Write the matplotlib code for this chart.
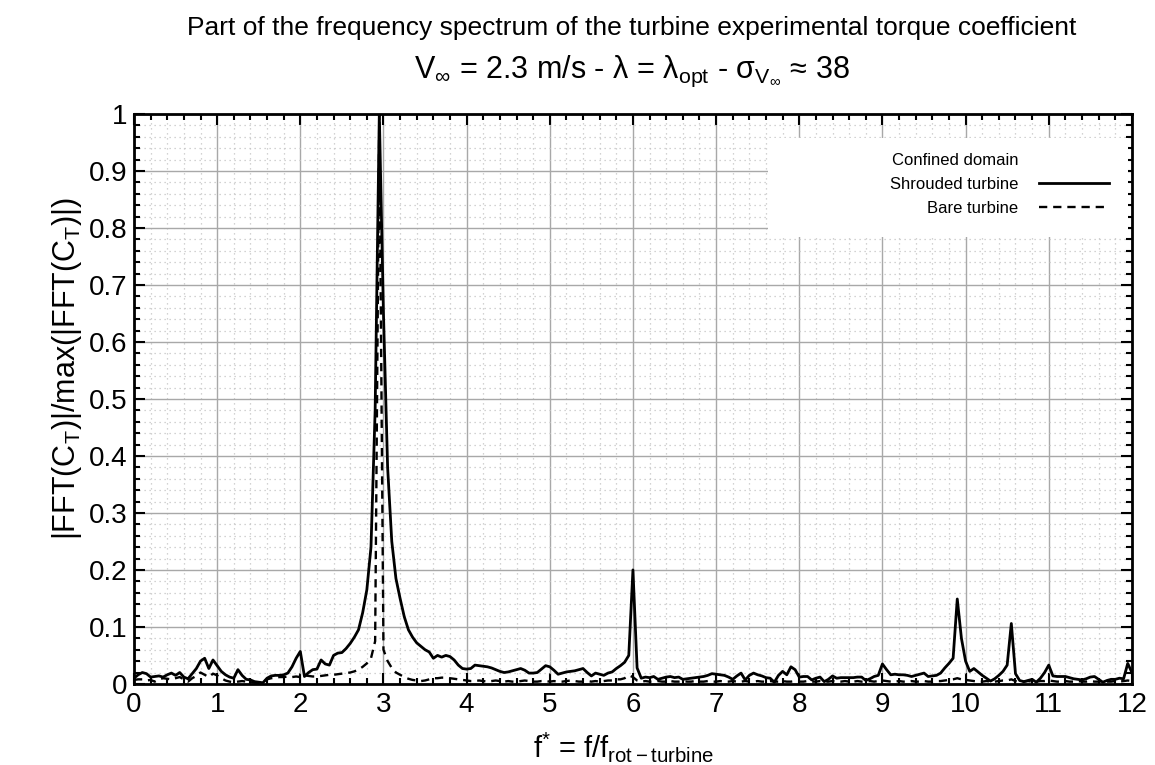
import matplotlib.pyplot as plt
import numpy as np
from matplotlib.ticker import MultipleLocator
from matplotlib.patches import Rectangle
from matplotlib.lines import Line2D

plt.rcParams['font.family'] = ['Liberation Sans', 'DejaVu Sans']
plt.rcParams['mathtext.fontset'] = 'custom'
plt.rcParams['mathtext.rm'] = 'Liberation Sans'
plt.rcParams['mathtext.it'] = 'Liberation Sans:italic'
plt.rcParams['mathtext.default'] = 'regular'

# normalised frequency f* (step 0.05)
freq = np.arange(0, 241) * 0.05

# shrouded turbine, |FFT(C_T)| / max
shrouded = [
    0.010, 0.016, 0.020, 0.018, 0.012, 0.013, 0.014, 0.012, 0.016, 0.019,
    0.015, 0.020, 0.012, 0.009, 0.018, 0.027, 0.040, 0.045, 0.027, 0.042,
    0.032, 0.022, 0.016, 0.012, 0.010, 0.025, 0.015, 0.008, 0.007, 0.004,
    0.003, 0.002, 0.010, 0.014, 0.015, 0.015, 0.016, 0.019, 0.030, 0.045,
    0.057, 0.013, 0.020, 0.025, 0.026, 0.042, 0.035, 0.033, 0.050, 0.054,
    0.055, 0.062, 0.071, 0.082, 0.095, 0.125, 0.165, 0.240, 0.480, 1.000,
    0.650, 0.380, 0.250, 0.185, 0.150, 0.118, 0.095, 0.082, 0.072, 0.066,
    0.060, 0.056, 0.045, 0.050, 0.047, 0.050, 0.048, 0.042, 0.033, 0.027,
    0.026, 0.027, 0.033, 0.032, 0.031, 0.030, 0.028, 0.025, 0.022, 0.020,
    0.021, 0.023, 0.025, 0.027, 0.024, 0.019, 0.019, 0.020, 0.026, 0.032,
    0.030, 0.024, 0.017, 0.019, 0.021, 0.022, 0.023, 0.025, 0.027, 0.020,
    0.014, 0.019, 0.017, 0.015, 0.019, 0.021, 0.027, 0.032, 0.038, 0.050,
    0.200, 0.028, 0.010, 0.012, 0.011, 0.013, 0.008, 0.010, 0.012, 0.013,
    0.011, 0.012, 0.008, 0.009, 0.010, 0.011, 0.012, 0.013, 0.015, 0.018,
    0.017, 0.016, 0.015, 0.012, 0.008, 0.014, 0.019, 0.007, 0.015, 0.019,
    0.016, 0.014, 0.011, 0.010, 0.003, 0.015, 0.022, 0.016, 0.030, 0.025,
    0.012, 0.013, 0.013, 0.007, 0.010, 0.012, 0.004, 0.008, 0.014, 0.010,
    0.011, 0.011, 0.011, 0.011, 0.012, 0.012, 0.006, 0.009, 0.013, 0.015,
    0.035, 0.025, 0.016, 0.017, 0.016, 0.016, 0.015, 0.013, 0.015, 0.017,
    0.019, 0.013, 0.014, 0.015, 0.019, 0.028, 0.036, 0.045, 0.149, 0.080,
    0.040, 0.022, 0.027, 0.021, 0.015, 0.010, 0.005, 0.009, 0.015, 0.022,
    0.033, 0.106, 0.018, 0.006, 0.004, 0.006, 0.008, 0.003, 0.010, 0.020,
    0.033, 0.014, 0.013, 0.013, 0.013, 0.011, 0.009, 0.008, 0.007, 0.009,
    0.012, 0.013, 0.008, 0.003, 0.006, 0.008, 0.008, 0.010, 0.009, 0.036,
    0.020,
]

# bare turbine
bare = [
    0.007, 0.008, 0.008, 0.006, 0.007, 0.004, 0.008, 0.010, 0.009, 0.008,
    0.010, 0.012, 0.008, 0.004, 0.010, 0.014, 0.020, 0.016, 0.012, 0.018,
    0.015, 0.010, 0.006, 0.004, 0.003, 0.004, 0.005, 0.004, 0.003, 0.002,
    0.002, 0.003, 0.008, 0.010, 0.011, 0.012, 0.012, 0.013, 0.012, 0.013,
    0.012, 0.015, 0.014, 0.013, 0.013, 0.014, 0.015, 0.016, 0.016, 0.017,
    0.018, 0.019, 0.020, 0.022, 0.025, 0.030, 0.036, 0.045, 0.075, 1.000,
    0.060, 0.040, 0.028, 0.020, 0.016, 0.012, 0.009, 0.007, 0.006, 0.005,
    0.006, 0.008, 0.010, 0.010, 0.011, 0.011, 0.010, 0.009, 0.008, 0.007,
    0.006, 0.005, 0.005, 0.006, 0.005, 0.004, 0.005, 0.006, 0.005, 0.004,
    0.005, 0.004, 0.004, 0.005, 0.006, 0.005, 0.004, 0.004, 0.005, 0.005,
    0.004, 0.005, 0.004, 0.004, 0.005, 0.006, 0.005, 0.004, 0.004, 0.005,
    0.004, 0.005, 0.004, 0.005, 0.006, 0.006, 0.008, 0.008, 0.010, 0.015,
    0.012, 0.006, 0.004, 0.005, 0.004, 0.004, 0.005, 0.004, 0.004, 0.005,
    0.004, 0.004, 0.005, 0.004, 0.004, 0.005, 0.004, 0.004, 0.005, 0.004,
    0.004, 0.005, 0.004, 0.004, 0.005, 0.004, 0.004, 0.005, 0.004, 0.004,
    0.005, 0.004, 0.004, 0.005, 0.004, 0.004, 0.005, 0.004, 0.004, 0.005,
    0.004, 0.004, 0.005, 0.004, 0.004, 0.005, 0.004, 0.004, 0.005, 0.004,
    0.004, 0.005, 0.004, 0.004, 0.005, 0.004, 0.004, 0.005, 0.004, 0.005,
    0.006, 0.005, 0.004, 0.004, 0.005, 0.004, 0.004, 0.005, 0.004, 0.004,
    0.005, 0.004, 0.004, 0.005, 0.005, 0.006, 0.007, 0.008, 0.010, 0.008,
    0.007, 0.006, 0.005, 0.004, 0.004, 0.005, 0.004, 0.004, 0.005, 0.006,
    0.006, 0.008, 0.005, 0.004, 0.004, 0.005, 0.004, 0.004, 0.005, 0.005,
    0.006, 0.005, 0.004, 0.004, 0.005, 0.004, 0.004, 0.005, 0.004, 0.004,
    0.005, 0.004, 0.004, 0.005, 0.004, 0.004, 0.005, 0.004, 0.005, 0.006,
    0.005,
]

fig = plt.figure(figsize=(11.55, 7.65), dpi=100)
ax = fig.add_axes([0.116, 0.106, 0.864, 0.745])

l1, = ax.plot(freq, shrouded, color='black', lw=2.0, label='Shrouded turbine', zorder=3)
l2, = ax.plot(freq, bare, color='black', lw=1.7, ls=(0, (3.5, 2.5)), label='Bare turbine', zorder=3)

ax.set_xlim(0, 12)
ax.set_ylim(0, 1)
ax.xaxis.set_major_locator(MultipleLocator(1))
ax.xaxis.set_minor_locator(MultipleLocator(0.2))
ax.yaxis.set_major_locator(MultipleLocator(0.1))
ax.yaxis.set_minor_locator(MultipleLocator(0.02))
ax.set_yticks(np.arange(0, 1.01, 0.1))
ax.set_yticklabels(['0', '0.1', '0.2', '0.3', '0.4', '0.5', '0.6', '0.7', '0.8', '0.9', '1'])

ax.grid(which='major', color='#a8a8a8', lw=1.0)
ax.grid(which='minor', color='#c4c4c4', lw=0.9, ls=(0, (1, 3)))
ax.set_axisbelow(True)
ax.tick_params(which='both', direction='in', top=True, right=True, width=1.5)
ax.tick_params(axis='x', labelsize=20, pad=6)
ax.tick_params(axis='y', labelsize=20, pad=5)
ax.tick_params(which='major', length=8)
ax.tick_params(which='minor', length=4)
for s in ax.spines.values():
    s.set_linewidth(2)

ax.set_xlabel(r'f$^{*}$ = f/f$_{\mathrm{rot-turbine}}$', fontsize=21)
ax.set_ylabel(r'|FFT(C$_{\mathrm{T}}$)|/max(|FFT(C$_{\mathrm{T}}$)|)', fontsize=22)
ax.xaxis.set_label_coords(0.49, -0.08)
ax.yaxis.set_label_coords(-0.05, 0.553)

fig.text(0.547, 0.963, 'Part of the frequency spectrum of the turbine experimental torque coefficient',
         ha='center', va='center', fontsize=19)
fig.text(0.547, 0.907, r'V$_{\infty}$ = 2.3 m/s - λ = λ$_{\mathrm{opt}}$ - σ$_{\mathrm{V}_{\infty}}$ ≈ 38',
         ha='center', va='center', fontsize=22)

# white key box
ax.add_patch(Rectangle((0.635, 0.785), 0.361, 0.172, transform=ax.transAxes,
                       facecolor='white', edgecolor='none', zorder=2))
blank = Line2D([], [], color='none')
leg = ax.legend([blank, l1, l2], ['Confined domain', 'Shrouded turbine', 'Bare turbine'],
                loc='upper right', bbox_to_anchor=(0.99, 0.955), markerfirst=False,
                fontsize=12, frameon=False,
                handlelength=4.2, borderpad=0.3, labelspacing=0.55, handletextpad=1.2)
leg.set_zorder(4)

fig.savefig('out.png', dpi=100)
